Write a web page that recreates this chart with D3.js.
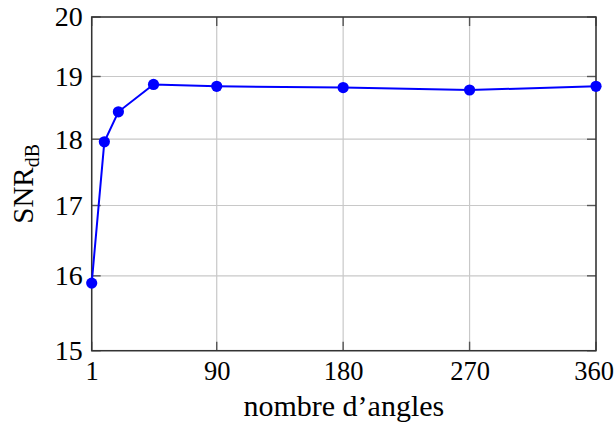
<!DOCTYPE html>
<html>
<head>
<meta charset="utf-8">
<script src="https://cdn.jsdelivr.net/npm/d3@7"></script>
<style>
  body { margin: 0; background: #fff; }
  text { font-family: "Liberation Serif", "DejaVu Serif", serif; fill: #000; }
</style>
</head>
<body>
<div id="chart"></div>
<script>
const angles = [1, 10, 20, 45, 90, 180, 270, 360];
const snr = [15.90, 17.96, 18.43, 18.87, 18.84, 18.82, 18.78, 18.84];
const xTicks = [1, 90, 180, 270, 360];
const yTicks = [15, 16, 17, 18, 19, 20];

const W = 615, H = 426;
const margin = {top: 17, right: 19, bottom: 75.3, left: 91.7};
const width = W - margin.left - margin.right,
    height = H - margin.top - margin.bottom;

const svg = d3.select("#chart")
    .append("svg")
    .attr("width", W)
    .attr("height", H)
    .append("g")
    .attr("transform", `translate(${margin.left},${margin.top})`);

const x = d3.scaleLinear().domain([1, 360]).range([0, width]);
// the y axis is logarithmic in the original
const y = d3.scaleLog().domain([15, 20]).range([height, 0]);

// grid
svg.append("g").selectAll("line")
    .data(xTicks).enter().append("line")
    .attr("x1", d => x(d)).attr("x2", d => x(d))
    .attr("y1", 0).attr("y2", height)
    .style("stroke", "#c8c8c8").style("stroke-width", 1.2);
svg.append("g").selectAll("line")
    .data(yTicks).enter().append("line")
    .attr("x1", 0).attr("x2", width)
    .attr("y1", d => y(d)).attr("y2", d => y(d))
    .style("stroke", "#c8c8c8").style("stroke-width", 1.2);

// inner ticks on all four sides
const tickLen = 9;
const tickStyle = sel => sel.style("stroke", "#555").style("stroke-width", 1.4);
svg.append("g").selectAll("line").data(xTicks).enter().append("line")
    .attr("x1", d => x(d)).attr("x2", d => x(d))
    .attr("y1", height).attr("y2", height - tickLen).call(tickStyle);
svg.append("g").selectAll("line").data(xTicks).enter().append("line")
    .attr("x1", d => x(d)).attr("x2", d => x(d))
    .attr("y1", 0).attr("y2", tickLen).call(tickStyle);
svg.append("g").selectAll("line").data(yTicks).enter().append("line")
    .attr("x1", 0).attr("x2", tickLen)
    .attr("y1", d => y(d)).attr("y2", d => y(d)).call(tickStyle);
svg.append("g").selectAll("line").data(yTicks).enter().append("line")
    .attr("x1", width).attr("x2", width - tickLen)
    .attr("y1", d => y(d)).attr("y2", d => y(d)).call(tickStyle);

// tick labels
const xAxis = svg.append("g")
    .attr("transform", `translate(0,${height})`)
    .call(d3.axisBottom(x).tickValues(xTicks).tickSize(0).tickPadding(10));
xAxis.select(".domain").remove();
xAxis.selectAll("text").style("font-size", "26.5px").attr("dy", "0.71em");
// last label sits right at the page edge, keep it inside
xAxis.selectAll("text").filter(d => d === 360).attr("dx", -2.5);

const yAxis = svg.append("g")
    .call(d3.axisLeft(y).tickValues(yTicks).tickFormat(d3.format("d")).tickSize(0).tickPadding(9));
yAxis.select(".domain").remove();
yAxis.selectAll("text").style("font-size", "28px");

// frame
svg.append("rect")
    .attr("width", width).attr("height", height)
    .style("fill", "none").style("stroke", "#333").style("stroke-width", 1.5);

// data
const pts = angles.map((a, i) => ({a: a, v: snr[i]}));
svg.append("path")
    .datum(pts)
    .attr("d", d3.line().x(d => x(d.a)).y(d => y(d.v)))
    .style("fill", "none").style("stroke", "#0000ff").style("stroke-width", 2);
svg.selectAll(".dot")
    .data(pts)
    .enter()
    .append("circle")
    .attr("cx", d => x(d.a))
    .attr("cy", d => y(d.v))
    .attr("r", 5.6)
    .style("fill", "#0000ff");

// axis labels
svg.append("text")
    .attr("x", width / 2).attr("y", height + 65)
    .style("text-anchor", "middle").style("font-size", "30px")
    .text("nombre d\u2019angles");

const yl = svg.append("text")
    .attr("transform", `translate(${-59},${height / 2}) rotate(-90)`)
    .style("text-anchor", "middle").style("font-size", "29px");
yl.append("tspan").text("SNR");
yl.append("tspan").attr("dy", 6).style("font-size", "20px").text("dB");
</script>
</body>
</html>
